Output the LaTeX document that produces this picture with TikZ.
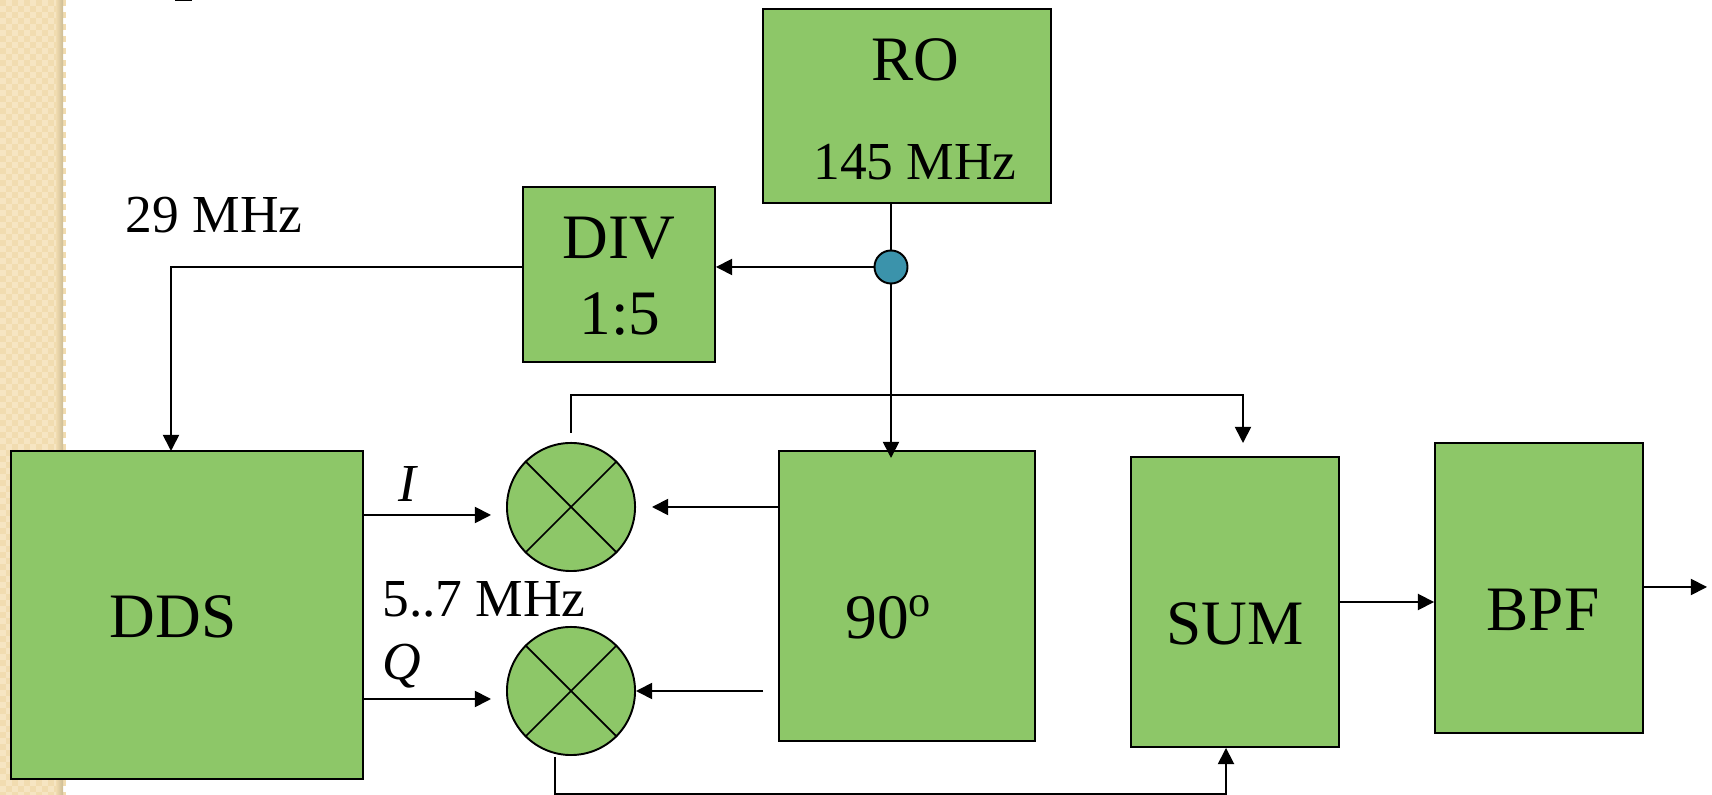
\documentclass[tikz,border=0pt]{standalone}
\usepackage{fontspec}
\setmainfont{Liberation Serif}
\usetikzlibrary{arrows.meta}
\definecolor{blockgreen}{HTML}{8DC768}
\definecolor{tapblue}{HTML}{3B93AB}
\definecolor{sidelight}{HTML}{F6E5C2}
\definecolor{sidedark}{HTML}{F1DCB0}
\definecolor{sideedge}{HTML}{CDBC94}
\tikzset{
  wire/.style={line width=0.5pt,-{Triangle[width=4.6pt,length=4.6pt]}},
  plainwire/.style={line width=0.5pt},
  blockbox/.style 2 args={draw,fill=blockgreen,line width=0.55pt,inner sep=0pt,
    minimum width=#1*0.01cm,minimum height=#2*0.01cm},
  mixer/.style={draw,circle,fill=blockgreen,line width=0.55pt,inner sep=0pt,minimum size=1.28cm},
  biglabel/.style={anchor=base,inner sep=0pt,font=\fontsize{18}{18}\selectfont},
  smalllabel/.style={anchor=base,inner sep=0pt,font=\fontsize{15.2}{15.2}\selectfont}
}
\begin{document}
\begin{tikzpicture}[x=0.01cm,y=-0.01cm]
  \useasboundingbox (0,0) rectangle (1712,795);
  % side strip
  \fill[sidelight] (0,0) rectangle (63,795);
  \foreach \i in {0,...,10} {
    \foreach \j in {0,...,132} {
      \pgfmathparse{int(mod(\i+\j,2))}
      \ifnum\pgfmathresult=0
        \fill[sidedark] (\i*6,\j*6) rectangle (\i*6+6,\j*6+6);
      \fi
    }
  }
  \fill[left color=sidedark,right color=sideedge] (56,0) rectangle (63,795);
  \fill (175,0) rectangle (192,1.5);
  % blocks
  \node[blockbox={288}{194}] (ro) at (907,106) {};
  \node[blockbox={192}{175}] (div) at (619,274.5) {};
  \node[blockbox={352}{328}] (dds) at (187,615) {};
  \node[blockbox={256}{290}] (shift) at (907,596) {};
  \node[blockbox={208}{290}] (sum) at (1235,602) {};
  \node[blockbox={208}{290}] (bpf) at (1539,588) {};
  % mixers
  \node[mixer] (mixi) at (571,507) {};
  \node[mixer] (mixq) at (571,691) {};
  \draw[plainwire] (mixi.45) -- (mixi.225) (mixi.135) -- (mixi.315);
  \draw[plainwire] (mixq.45) -- (mixq.225) (mixq.135) -- (mixq.315);
  \node[draw,circle,fill=tapblue,line width=0.55pt,inner sep=0pt,minimum size=0.33cm] (tap) at (891,267) {};
  % free wire ends
  \coordinate (shifttip) at (891,458);
  \coordinate (mixitop) at (571,433);
  \coordinate (overa) at (571,395);
  \coordinate (overb) at (1243,395);
  \coordinate (sumtip) at (1243,443);
  \coordinate (itip) at (491,515);
  \coordinate (qtip) at (491,699);
  \coordinate (shiftitip) at (652,507);
  \coordinate (shiftqstart) at (763,691);
  \coordinate (mixqbottom) at (555,757);
  \coordinate (undera) at (555,794);
  \coordinate (underb) at (1226,794);
  \coordinate (outtip) at (1707,587);
  % connections
  \draw[plainwire] (ro.south -| tap) -- (tap.north);
  \draw[wire] (tap.west) -- (tap.west -| div.east);
  \draw[wire] (div.west |- tap) -- (171,267) -- (171,451);
  \draw[wire] (tap.south) -- (shifttip);
  \draw[wire] (mixitop) -- (overa) -- (overb) -- (sumtip);
  \draw[wire] (dds.east |- itip) -- (itip);
  \draw[wire] (dds.east |- qtip) -- (qtip);
  \draw[wire] (shift.west |- mixi) -- (shiftitip);
  \draw[wire] (shiftqstart) -- (mixq.east);
  \draw[wire] (mixqbottom) -- (undera) -- (underb) -- (underb |- sum.south);
  \draw[wire] (sum.east |- 0,602) -- (bpf.west |- 0,602);
  \draw[wire] (bpf.east |- outtip) -- (outtip);
  % labels
  \node[biglabel] (rotext) at (915,81) {RO};
  \node[smalllabel] (rofreq) at (915,180) {145 MHz};
  \node[biglabel] (divtext) at (619,259) {DIV};
  \node[biglabel] (divratio) at (620,335) {1:5};
  \node[biglabel] (ddstext) at (173,638) {DDS};
  \node[biglabel] (shifttext) at (889,639) {90\textsuperscript{o}};
  \node[biglabel] (sumtext) at (1235,645) {SUM};
  \node[biglabel] (bpftext) at (1543,631) {BPF};
  \node[smalllabel] (clockfreq) at (214,233) {29 MHz};
  \node[smalllabel] (basefreq) at (484,617) {5..7 MHz};
  \node[smalllabel] (itext) at (407,502) {\itshape I};
  \node[smalllabel] (qtext) at (402,680) {\itshape Q};
\end{tikzpicture}
\end{document}
